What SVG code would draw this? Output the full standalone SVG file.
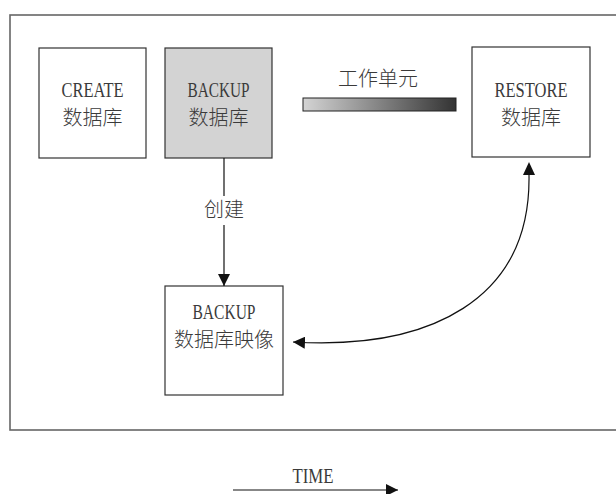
<svg xmlns="http://www.w3.org/2000/svg" width="616" height="494" viewBox="0 0 616 494">
<style>
.box{stroke:#333;stroke-width:1.2;fill:#fff}
.lat{font-family:"Liberation Serif",serif;font-size:22px;fill:#3a3a3a;text-anchor:middle}
.cjk{font-family:"Noto Sans CJK SC",sans-serif;font-size:20px;font-weight:300;fill:#3a3a3a;text-anchor:middle}
.ln{stroke:#111;stroke-width:1.2;fill:none}
</style>
<defs>
<marker id="ah" viewBox="0 0 10 10" refX="10" refY="5" markerWidth="12" markerHeight="12" markerUnits="userSpaceOnUse" orient="auto">
<path d="M0,0 L10,5 L0,10 Z" fill="#111"/>
</marker>
<linearGradient id="g" x1="0" y1="0" x2="1" y2="0">
<stop offset="0" stop-color="#d4d4d4"/>
<stop offset="1" stop-color="#333"/>
</linearGradient>
</defs>
<rect x="10" y="15" width="612" height="415" fill="none" stroke="#666" stroke-width="1.6"/>
<g id="create">
<rect class="box" x="39" y="48" width="107" height="110"/>
<text class="lat" x="92.5" y="97" textLength="62" lengthAdjust="spacingAndGlyphs">CREATE</text>
<text class="cjk" x="92.5" y="125">数据库</text>
</g>
<g id="backup">
<rect class="box" x="165" y="48" width="107" height="110" style="fill:#d3d3d3"/>
<text class="lat" x="218.5" y="97" textLength="62" lengthAdjust="spacingAndGlyphs">BACKUP</text>
<text class="cjk" x="218.5" y="125">数据库</text>
</g>
<g id="restore">
<rect class="box" x="472" y="47" width="118" height="110"/>
<text class="lat" x="531" y="97" textLength="73" lengthAdjust="spacingAndGlyphs">RESTORE</text>
<text class="cjk" x="531" y="125">数据库</text>
</g>
<g id="image">
<rect class="box" x="165" y="286" width="118" height="109"/>
<text class="lat" x="224" y="319" textLength="63" lengthAdjust="spacingAndGlyphs">BACKUP</text>
<text class="cjk" x="224" y="347">数据库映像</text>
</g>
<g id="unit">
<rect x="303" y="98" width="153" height="13" fill="url(#g)" stroke="#222" stroke-width="1"/>
<text class="cjk" x="378" y="86">工作单元</text>
</g>
<g id="connectors">
<line class="ln" x1="224" y1="158" x2="224" y2="196"/>
<line class="ln" x1="224" y1="225" x2="224" y2="286" marker-end="url(#ah)"/>
<text class="cjk" x="224" y="217">创建</text>
<path class="ln" d="M529,175 C531,300 430,350 293,342" marker-end="url(#ah)"/>
<path d="M529,162 L535,175 L523,175 Z" fill="#111"/>
<line class="ln" x1="233" y1="490" x2="398" y2="490" marker-end="url(#ah)"/>
<text class="lat" x="313" y="483" textLength="41" lengthAdjust="spacingAndGlyphs">TIME</text>
</g>
</svg>
